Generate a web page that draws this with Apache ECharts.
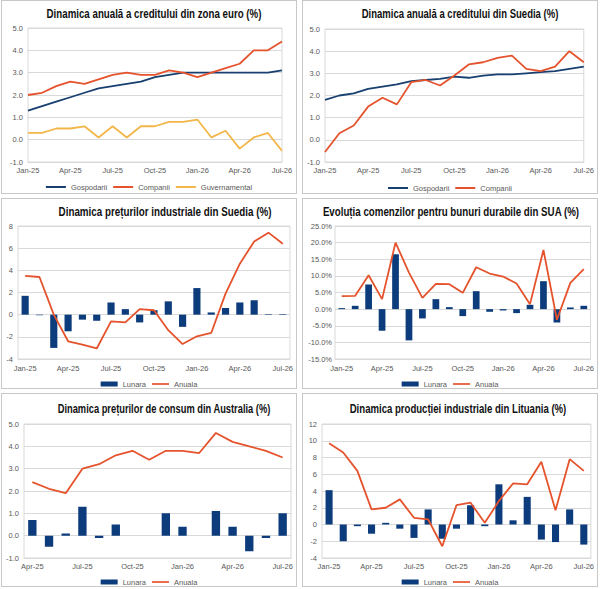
<!DOCTYPE html>
<html>
<head>
<meta charset="utf-8">
<script src="https://cdn.jsdelivr.net/npm/echarts@6.0.0/dist/echarts.min.js"></script>
<style>
  body { margin: 0; background: #fff; width: 600px; height: 589px; position: relative; overflow: hidden; }
  .panel { position: absolute; box-sizing: border-box; border: 1px solid #c8c8c8; background: #fff; }
</style>
</head>
<body>
<div id="p1" class="panel" style="left:1px;top:0px;width:296px;height:194px"></div>
<div id="p2" class="panel" style="left:302px;top:0px;width:296px;height:194px"></div>
<div id="p3" class="panel" style="left:1px;top:198px;width:296px;height:191px"></div>
<div id="p4" class="panel" style="left:302px;top:198px;width:296px;height:191px"></div>
<div id="p5" class="panel" style="left:1px;top:393px;width:296px;height:194px"></div>
<div id="p6" class="panel" style="left:302px;top:393px;width:296px;height:194px"></div>
<script>
// categorii
const months19 = ['Jan-25','Feb-25','Mar-25','Apr-25','May-25','Jun-25','Jul-25','Aug-25','Sep-25','Oct-25','Nov-25','Dec-25',
                  'Jan-26','Feb-26','Mar-26','Apr-26','May-26','Jun-26','Jul-26'];
const months16 = ['Apr-25','May-25','Jun-25','Jul-25','Aug-25','Sep-25','Oct-25','Nov-25','Dec-25',
                  'Jan-26','Feb-26','Mar-26','Apr-26','May-26','Jun-26','Jul-26'];

// 1. credit zona euro
const euroGosp = [1.3,1.5,1.7,1.9,2.1,2.3,2.4,2.5,2.6,2.8,2.9,3.0,3.0,3.0,3.0,3.0,3.0,3.0,3.1];
const euroComp = [2.0,2.1,2.4,2.6,2.5,2.7,2.9,3.0,2.9,2.9,3.1,3.0,2.8,3.0,3.2,3.4,4.0,4.0,4.4];
const euroGuv  = [0.3,0.3,0.5,0.5,0.6,0.1,0.6,0.1,0.6,0.6,0.8,0.8,0.9,0.1,0.4,-0.4,0.1,0.3,-0.5];

// 2. credit Suedia
const seGosp = [1.8,2.0,2.1,2.3,2.4,2.5,2.65,2.7,2.75,2.85,2.8,2.9,2.95,2.95,3.0,3.05,3.1,3.2,3.3];
const seComp = [-0.55,0.3,0.65,1.5,1.9,1.6,2.6,2.7,2.45,2.9,3.4,3.5,3.7,3.8,3.2,3.1,3.3,4.0,3.5];

// 3. preturi industriale Suedia
const sePpiLunara = [1.7,-0.05,-3.0,-1.5,-0.45,-0.55,1.1,0.5,-0.7,0.4,1.2,-1.1,2.4,0.2,0.6,1.1,1.3,0.05,0.05];
const sePpiAnuala = [3.5,3.4,0.0,-2.4,-2.7,-3.05,-0.6,-0.7,0.5,0.4,-1.4,-2.65,-1.95,-1.65,1.9,4.6,6.6,7.4,6.4];

// 4. comenzi bunuri durabile SUA
const usLunara = [0.3,1.0,7.4,-6.5,16.5,-9.4,-2.8,3.0,0.6,-2.1,5.4,-0.8,-0.4,-1.2,1.3,8.4,-4.0,0.5,1.0];
const usAnuala = [3.9,4.0,10.2,3.0,20.0,11.0,3.4,7.6,7.5,4.9,12.6,10.7,9.8,7.7,1.5,17.8,-3.2,7.9,12.0];

// 5. preturi de consum Australia
const auLunara = [0.7,-0.5,0.1,1.3,-0.1,0.5,0,0,1.0,0.4,0,1.1,0.4,-0.7,-0.1,1.0];
const auAnuala = [2.4,2.1,1.9,3.0,3.2,3.6,3.8,3.4,3.8,3.8,3.7,4.6,4.2,4.0,3.8,3.5];

// 6. productie industriala Lituania
const ltLunara = [4.1,-2.0,-0.2,-1.1,0.2,-0.5,-1.6,1.8,-1.7,-0.5,2.3,-0.2,4.8,0.5,3.3,-1.8,-2.1,1.8,-2.4];
const ltAnuala = [9.7,8.6,6.4,1.8,2.0,3.0,0.8,0.6,-2.6,2.3,2.6,0.2,2.8,4.9,4.8,7.5,1.7,7.8,6.4];

const NAVY = '#0c3c7c', NAVY_LINE = '#173f6f', RED = '#e5532d', YELLOW = '#f3b64a';
const GRID_C = '#d9d9d9', LABEL_C = '#595959';
const TXT_FONT = '"Liberation Sans", Arial, sans-serif';
const TITLE_FONT = 'bold 13px "Liberation Sans", Arial, sans-serif';
const LINE_ICON = 'path://M0,0H20V2H0Z';

// titlul din original e un font bold condensat: il comprimam pe orizontala pana la latimea dorita
const measureCtx = document.createElement('canvas').getContext('2d');
function titleScale(text, targetW) {
    measureCtx.font = TITLE_FONT;
    return targetW / measureCtx.measureText(text).width;
}

function lineSeries(name, data, color) {
    return { name, type: 'line', data, symbol: 'none', z: 3,
             lineStyle: { color, width: 1.8 }, itemStyle: { color } };
}
function barSeries(name, data) {
    return { name, type: 'bar', data, barWidth: '50%', itemStyle: { color: NAVY } };
}

function buildOption(p) {
    return {
        animation: false,
        graphic: [{
            type: 'text', x: p.titleX, y: p.titleY, scaleX: titleScale(p.title, p.titleW),
            style: { text: p.title, font: TITLE_FONT, fill: '#111', align: 'center', verticalAlign: 'middle' }
        }],
        legend: {
            top: p.legendTop, left: 'center', padding: 0,
            itemWidth: p.bars ? 17 : 20, itemHeight: 5, itemGap: 6,
            data: p.legend,
            textStyle: { fontSize: 7.5, color: LABEL_C, fontFamily: TXT_FONT }
        },
        grid: Object.assign({ show: true, borderColor: GRID_C, borderWidth: 1, containLabel: false }, p.grid),
        xAxis: {
            type: 'category', data: p.cats, boundaryGap: !!p.bars,
            axisLine: { show: true, onZero: false, lineStyle: { color: GRID_C } },
            axisTick: { show: false },
            axisLabel: { interval: 2, fontSize: 7.5, color: LABEL_C, fontFamily: TXT_FONT, margin: p.xMargin || 4 }
        },
        yAxis: {
            type: 'value', min: p.min, max: p.max, interval: p.step,
            axisLine: { show: false }, axisTick: { show: false },
            splitLine: { lineStyle: { color: GRID_C } },
            axisLabel: { fontSize: 7.5, color: LABEL_C, fontFamily: TXT_FONT, margin: p.yMargin || 5, formatter: p.fmt }
        },
        series: p.series
    };
}

const fmt1 = v => v.toFixed(1);
const fmtPct = v => v.toFixed(1) + '%';
const fmt0 = v => String(v);

const barLegend = [{ name: 'Lunara', icon: 'rect' }, { name: 'Anuala', icon: LINE_ICON }];

const panels = [
    { id: 'p1', title: 'Dinamica anuală a creditului din zona euro (%)', titleX: 152, titleY: 12, titleW: 215,
      legendTop: 182, grid: { left: 26, top: 27, width: 254, height: 134 },
      cats: months19, min: -1, max: 5, step: 1, fmt: fmt1,
      legend: [{ name: 'Gospodarii', icon: LINE_ICON }, { name: 'Companii', icon: LINE_ICON },
               { name: 'Guvernamental', icon: LINE_ICON }],
      series: [lineSeries('Gospodarii', euroGosp, NAVY_LINE), lineSeries('Companii', euroComp, RED),
               lineSeries('Guvernamental', euroGuv, YELLOW)] },
    { id: 'p2', title: 'Dinamica anuală a creditului din Suedia (%)', titleX: 157, titleY: 12, titleW: 197,
      legendTop: 183, grid: { left: 22, top: 28, width: 259, height: 133 },
      cats: months19, min: -1, max: 5, step: 1, fmt: fmt1,
      legend: [{ name: 'Gospodarii', icon: LINE_ICON }, { name: 'Companii', icon: LINE_ICON }],
      series: [lineSeries('Gospodarii', seGosp, NAVY_LINE), lineSeries('Companii', seComp, RED)] },
    { id: 'p3', title: 'Dinamica prețurilor industriale din Suedia (%)', titleX: 163, titleY: 12, titleW: 213, bars: true,
      legendTop: 181, grid: { left: 16, top: 27, width: 272, height: 133 }, xMargin: 5,
      cats: months19, min: -4, max: 8, step: 2, fmt: fmt0, legend: barLegend,
      series: [barSeries('Lunara', sePpiLunara), lineSeries('Anuala', sePpiAnuala, RED)] },
    { id: 'p4', title: 'Evoluția comenzilor pentru bunuri durabile din SUA (%)', titleX: 148, titleY: 12, titleW: 257, bars: true,
      legendTop: 181, grid: { left: 32, top: 27, width: 256, height: 133 }, xMargin: 5, yMargin: 3,
      cats: months19, min: -15, max: 25, step: 5, fmt: fmtPct, legend: barLegend,
      series: [barSeries('Lunara', usLunara), lineSeries('Anuala', usAnuala, RED)] },
    { id: 'p5', title: 'Dinamica prețurilor de consum din Australia (%)', titleX: 162, titleY: 14, titleW: 213, bars: true,
      legendTop: 184, grid: { left: 22, top: 30, width: 267, height: 134 },
      cats: months16, min: -1, max: 5, step: 1, fmt: fmt1, legend: barLegend,
      series: [barSeries('Lunara', auLunara), lineSeries('Anuala', auAnuala, RED)] },
    { id: 'p6', title: 'Dinamica producției industriale din Lituania (%)', titleX: 155, titleY: 14, titleW: 217, bars: true,
      legendTop: 184, grid: { left: 19, top: 30, width: 270, height: 134 },
      cats: months19, min: -4, max: 12, step: 2, fmt: fmt0, legend: barLegend,
      series: [barSeries('Lunara', ltLunara), lineSeries('Anuala', ltAnuala, RED)] }
];

panels.forEach(p => {
    const chart = echarts.init(document.getElementById(p.id), null, { renderer: 'svg' });
    chart.setOption(buildOption(p));
});
</script>
</body>
</html>
